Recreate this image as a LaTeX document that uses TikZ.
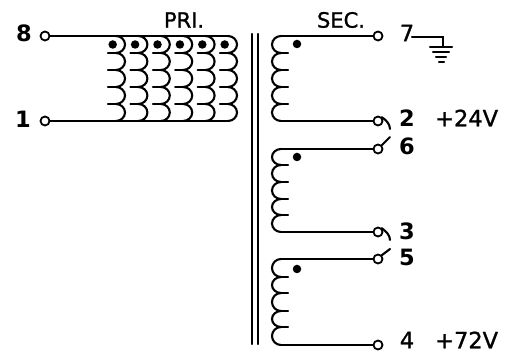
\documentclass[tikz,border=0pt]{standalone}
\usepackage{fontspec}
\setmainfont[FakeBold=1.2]{DejaVu Sans}
\newfontfamily\heavy{DejaVu Sans Bold}
\newcommand{\lbl}{\fontsize{22.5}{22.5}\selectfont}
\newcommand{\hdr}{\fontsize{21}{21}\selectfont}
% bump from (cx,y1) to (cx,y2) with signed radius r
\newcommand{\coilbump}[4]{%
  \pgfmathsetmacro{\ym}{(#2+#3)/2}%
  \pgfmathsetmacro{\tip}{#1+#4}%
  \pgfmathsetmacro{\ka}{#1+0.55*#4}%
  \pgfmathsetmacro{\kb}{(#3-#2)/2*0.55}%
  \draw[wire] (#1,#2) .. controls (\ka,#2) and (\tip,\ym-\kb) .. (\tip,\ym)
     .. controls (\tip,\ym+\kb) and (\ka,#3) .. (#1,#3);}
\tikzset{
  wire/.style={line width=2.1pt,line cap=round},
  term/.style={circle,draw,line width=1.8pt,fill=white,minimum size=9pt,inner sep=0pt},
  phdot/.style={circle,fill=black,minimum size=8.5pt,inner sep=0pt},
  txt/.style={inner sep=0pt,font=\lbl,text=black},
}
\begin{document}
\begin{tikzpicture}[x=1pt,y=-1pt]
\useasboundingbox (0,0) rectangle (514,352);
\fill[white] (0,0) rectangle (514,352);
% terminals
\node[term] (t8) at (45,36) {};
\node[term] (t1) at (45,121) {};
\node[term] (t7) at (378,36) {};
\node[term] (t2) at (378,121) {};
\node[term] (t6) at (378,149) {};
\node[term] (t3) at (378,232) {};
\node[term] (t5) at (378,259) {};
\node[term] (t4) at (378,345) {};
\coordinate (ptop) at (228,36);
\coordinate (pbot) at (228,121);
\coordinate (s1t) at (281,36);
\coordinate (s1b) at (281,121);
\coordinate (s2t) at (281,149);
\coordinate (s2b) at (281,232);
\coordinate (s3t) at (281,259);
\coordinate (s3b) at (281,345);
\draw[wire] (t8) -- (ptop);
\draw[wire] (t1) -- (pbot);
\draw[wire] (t7) -- (s1t);
\draw[wire] (t2) -- (s1b);
\draw[wire] (t6) -- (s2t);
\draw[wire] (t3) -- (s2b);
\draw[wire] (t5) -- (s3t);
\draw[wire] (t4) -- (s3b);
% primary coils
\foreach \c in {0,...,5}{
  \pgfmathsetmacro{\cx}{116+22.4*\c}
  \pgfmathsetmacro{\lx}{108+22.4*\c}
  \coilbump{\cx}{36}{53}{9}
  \coilbump{\cx}{53}{70}{9}
  \coilbump{\cx}{70}{87}{9}
  \coilbump{\cx}{87}{104}{9}
  \coilbump{\cx}{104}{121}{9}
  \foreach \y in {53,70,87,104}{\draw[wire] (\lx,\y) -- (\cx,\y);}
  \pgfmathsetmacro{\dx}{112.7+22.4*\c}
  \node[phdot] (pd\c) at (\dx,44.5) {};
}
% secondary coils
\foreach \ya/\yb/\yc/\yd/\ye/\yf in {36/53/70/87/104/121,149/165/182/199/215/232,259/277/293/311/327/345}{
  \coilbump{281}{\ya}{\yb}{-9}
  \coilbump{281}{\yb}{\yc}{-9}
  \coilbump{281}{\yc}{\yd}{-9}
  \coilbump{281}{\yd}{\ye}{-9}
  \coilbump{281}{\ye}{\yf}{-9}
  \foreach \y in {\yb,\yc,\yd,\ye}{\draw[wire] (281,\y) -- (288,\y);}
}
\node[phdot] (d1) at (297,44) {};
\node[phdot] (d2) at (297,157) {};
\node[phdot] (d3) at (297,269) {};
% core
\coordinate (c1a) at (252,34);
\coordinate (c1b) at (252,344);
\coordinate (c2a) at (258,34);
\coordinate (c2b) at (258,344);
\draw[wire] (c1a) -- (c1b);
\draw[wire] (c2a) -- (c2b);
% jumpers
\draw[wire] (t2.north east) .. controls (386,120) and (390,124) .. (390,129);
\draw[wire] (t6.north east) -- (390,137);
\draw[wire] (t3.north east) .. controls (386,231.5) and (390,235) .. (390,240);
\draw[wire] (t5.north east) -- (390,249);
% ground
\coordinate (g0) at (412,37);
\coordinate (g1) at (443,37);
\coordinate (g2) at (443,47);
\draw[wire] (g0) -- (g1) -- (g2);
\draw[wire] (430,47) -- (452,47);
\draw[wire] (433,52) -- (449,52);
\draw[wire] (436,57) -- (446,57);
\draw[wire] (439,62) -- (444,62);
% labels
\node[txt,font=\lbl\heavy] (n8) at (24,33) {8};
\node[txt,font=\lbl\heavy] (n1) at (23,119) {1};
\node[txt,font=\hdr] (npri) at (184,20) {PRI.};
\node[txt,font=\hdr] (nsec) at (341,20) {SEC.};
\node[txt] (n7) at (407,33) {7};
\node[txt,font=\lbl\heavy] (n2) at (407,118) {2};
\node[txt,font=\lbl\heavy] (n6) at (407,146) {6};
\node[txt,font=\lbl\heavy] (n3) at (407,231) {3};
\node[txt,font=\lbl\heavy] (n5) at (407,257) {5};
\node[txt] (n4) at (407,340) {4};
\node[txt,anchor=west] (v24) at (435,118) {+24V};
\node[txt,anchor=west] (v72) at (435,340) {+72V};
\end{tikzpicture}
\end{document}
